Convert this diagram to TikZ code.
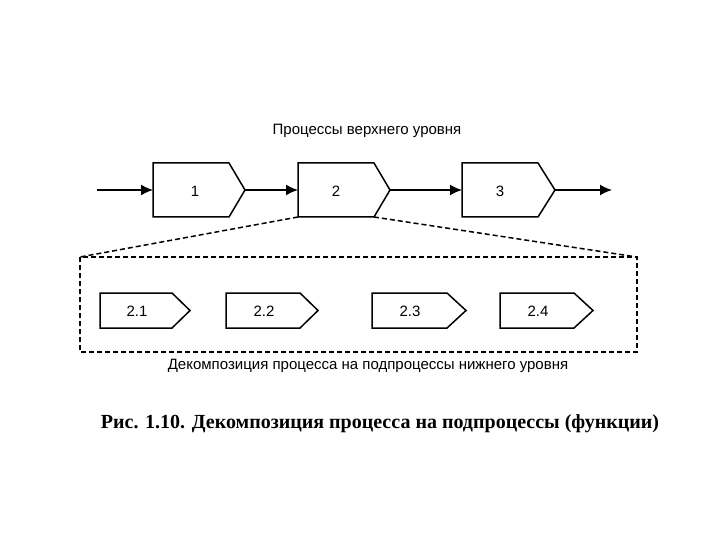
\documentclass[tikz,border=0pt]{standalone}
\usepackage{fontspec}
\usetikzlibrary{arrows.meta}
\setmainfont{Liberation Sans}
\newfontfamily\capfont{Liberation Serif}
\begin{document}
\begin{tikzpicture}[x=1pt,y=-1pt,
  ln/.style={line width=1.5pt,black},
  arr/.style={ln,-{Latex[length=12pt,width=11pt]}},
  dsh/.style={line width=1.5pt,dash pattern=on 5pt off 3pt},
  lbl/.style={font=\fontsize{15}{18}\selectfont}]
\useasboundingbox (0,0) rectangle (720,540);
\newcommand{\pent}[6]{% name, x0, y0, xr, xt, y1
  \draw[ln] (#2,#3) -- (#4,#3) -- (#5,{(#3+#6)/2}) -- (#4,#6) -- (#2,#6) -- cycle;
  \coordinate (#1w) at (#2,{(#3+#6)/2});
  \coordinate (#1e) at (#5,{(#3+#6)/2});
  \coordinate (#1bl) at (#2,#6);
  \coordinate (#1br) at (#4,#6);
}
\node[lbl] (top) at (367,131) {Процессы верхнего уровня};
\pent{a}{153}{163}{229}{245}{217}
\pent{b}{298}{163}{374}{390}{217}
\pent{c}{462}{163}{538}{555}{217}
\node[lbl] (ta) at (195,191) {1};
\node[lbl] (tb) at (336,191) {2};
\node[lbl] (tc) at (500,191) {3};
\coordinate (s) at (97,190);
\coordinate (t) at (612,190);
\draw[arr] (s) -- (aw);
\draw[arr] (ae) -- (bw);
\draw[arr] (be) -- (cw);
\draw[arr] (ce) -- (t);
\draw[dsh] (80,257) rectangle (637,352);
\coordinate (dl) at (80,257);
\coordinate (dr) at (637,257);
\draw[dsh] (bbl) -- (dl);
\draw[dsh] (bbr) -- (dr);
\pent{d}{100}{293}{172}{190}{328}
\pent{e}{226}{293}{300}{318}{328}
\pent{f}{372}{293}{447}{466}{328}
\pent{g}{500}{293}{574}{593}{328}
\node[lbl] (td) at (137,311) {2.1};
\node[lbl] (te) at (264,311) {2.2};
\node[lbl] (tf) at (410,311) {2.3};
\node[lbl] (tg) at (538,311) {2.4};
\node[lbl] (bot) at (368,366) {Декомпозиция процесса на подпроцессы нижнего уровня};
\node[font=\capfont\bfseries\fontsize{20}{24}\selectfont] (cap) at (380,424) {Рис. 1.10. Декомпозиция процесса на подпроцессы (функции)};
\end{tikzpicture}
\end{document}
